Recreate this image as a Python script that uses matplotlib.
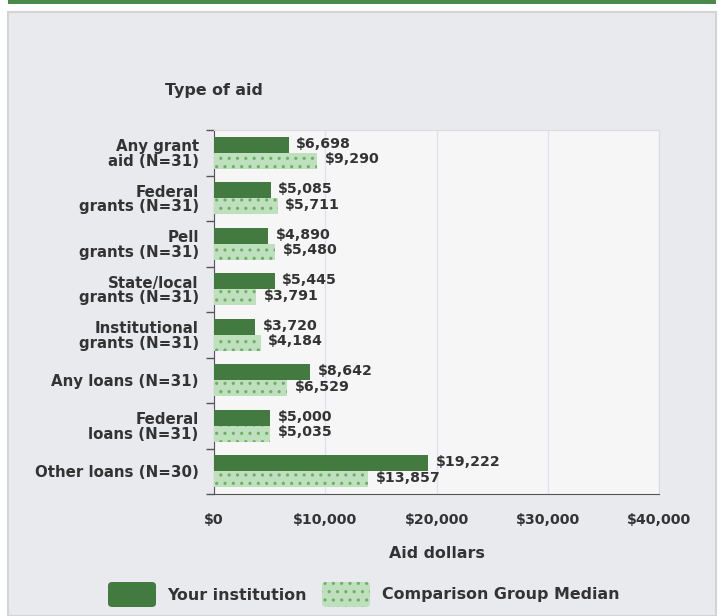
import numpy as np
import matplotlib.pyplot as plt
from matplotlib.patches import Rectangle, FancyBboxPatch

plt.rcParams['font.family'] = ['DejaVu Sans']
plt.rcParams['hatch.linewidth'] = 1.1

# Data
categories = ['Any grant\naid (N=31)', 'Federal\ngrants (N=31)', 'Pell\ngrants (N=31)',
              'State/local\ngrants (N=31)', 'Institutional\ngrants (N=31)',
              'Any loans (N=31)', 'Federal\nloans (N=31)', 'Other loans (N=30)']
your_inst = [6698, 5085, 4890, 5445, 3720, 8642, 5000, 19222]
comparison = [9290, 5711, 5480, 3791, 4184, 6529, 5035, 13857]
xticks = [0, 10000, 20000, 30000, 40000]

dark = '#437a3f'
light = '#bfe0bc'
hatch_col = '#6fae6a'
txt = '#333333'
fs = 10.2      # tick / value labels
fs_cat = 10.8  # category labels
fs_big = 11.4  # titles, legend
fw = 'bold'

W, H = 723, 616
fig = plt.figure(figsize=(W / 100, H / 100), dpi=100)
fig.patch.set_facecolor('white')

# frame decorations
fig.patches.append(Rectangle((8 / W, 1 - 4 / H), 708 / W, 4 / H, transform=fig.transFigure,
                             facecolor='#4a8a4a', edgecolor='none', zorder=-2))
fig.patches.append(Rectangle((8 / W, 0), 708 / W, 1 - 12 / H, transform=fig.transFigure,
                             facecolor='#e9eaee', edgecolor='#d4d4d6', linewidth=1.5, zorder=-2))

ax = fig.add_axes([214 / W, 1 - 494 / H, 445 / W, 364 / H])
ax.set_zorder(2)
ax.set_facecolor('#f6f6f7')

n = len(categories)
y = np.arange(n)
h = 0.35
ax.barh(y - h / 2, your_inst, height=h, color=dark, edgecolor='none', zorder=3)
ax.barh(y + h / 2, comparison, height=h, color=light, edgecolor=hatch_col,
        linewidth=0, hatch='..', zorder=3)

for yi, v in zip(y, your_inst):
    ax.text(v + 700, yi - h / 2 - 0.02, f'${v:,}', va='center', ha='left',
            fontsize=fs, color=txt, fontweight=fw, zorder=4)
for yi, v in zip(y, comparison):
    ax.text(v + 700, yi + h / 2 - 0.03, f'${v:,}', va='center', ha='left',
            fontsize=fs, color=txt, fontweight=fw, zorder=4)

ax.set_xlim(0, 40000)
ax.set_ylim(n - 0.5, -0.5)
ax.set_xticks(xticks)
ax.set_xticklabels([f'${t:,}' for t in xticks], fontsize=fs, color=txt, fontweight=fw)
ax.grid(axis='x', color='#dfe3ee', linewidth=1, zorder=0)

ax.set_yticks(y)
ax.set_yticklabels(categories, fontsize=fs_cat, color=txt, fontweight=fw, linespacing=0.95)
ax.set_yticks(np.arange(n + 1) - 0.5, minor=True)
ax.tick_params(axis='y', which='major', length=0, pad=11)
ax.tick_params(axis='y', which='minor', length=6, color='#555555', width=1)
ax.tick_params(axis='x', length=0, pad=14)

for s in ['top', 'right']:
    ax.spines[s].set_color('#dcdcdf')
ax.spines['left'].set_color('#555555')
ax.spines['bottom'].set_color('#555555')

ax.set_xlabel('Aid dollars', fontsize=fs_big, color=txt, fontweight=fw, labelpad=13)
fig.text(214 / W, 1 - 90 / H, 'Type of aid', ha='center', va='center', fontsize=fs_big,
         color=txt, fontweight=fw)

# legend
lx1, ly = 108, 595
fig.patches.append(FancyBboxPatch((lx1 / W, 1 - (ly + 12) / H), 48 / W, 25 / H,
                                  boxstyle='round,pad=0,rounding_size=0.006',
                                  transform=fig.transFigure, facecolor=dark, edgecolor='none'))
fig.text(167 / W, 1 - ly / H, 'Your institution', ha='left', va='center', fontsize=fs_big,
         color=txt, fontweight=fw)
fig.patches.append(FancyBboxPatch((322 / W, 1 - (ly + 12) / H), 48 / W, 25 / H,
                                  boxstyle='round,pad=0,rounding_size=0.006',
                                  transform=fig.transFigure, facecolor=light,
                                  edgecolor=hatch_col, linewidth=0, hatch='..'))
fig.text(382 / W, 1 - ly / H, 'Comparison Group Median', ha='left', va='center',
         fontsize=fs_big, color=txt, fontweight=fw)

fig.savefig('out.png', dpi=100)
